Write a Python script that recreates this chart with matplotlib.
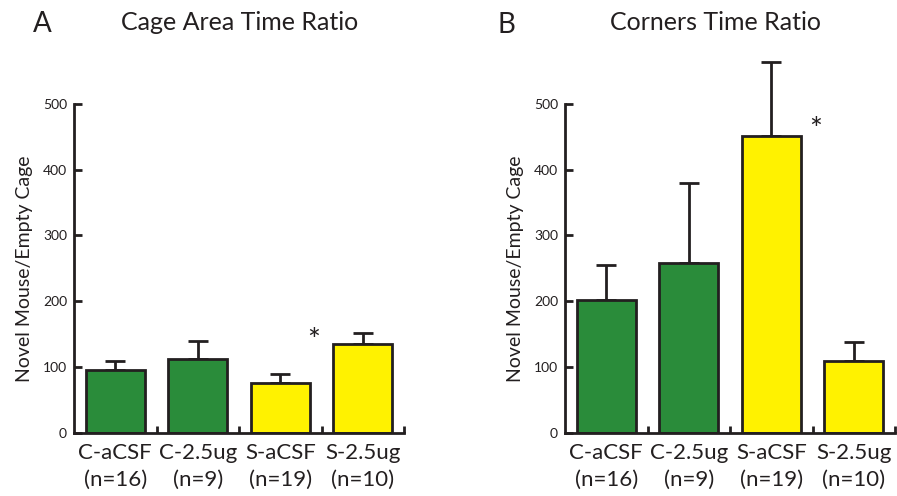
import numpy as np
import matplotlib.pyplot as plt

plt.rcParams['font.family'] = ['Lato', 'DejaVu Sans']

# ---- data ----
groups = ["C-aCSF", "C-2.5ug", "S-aCSF", "S-2.5ug"]
n_labels = ["(n=16)", "(n=9)", "(n=19)", "(n=10)"]
cage_mean = [95, 113, 76, 135]
cage_err = [15, 27, 14, 17]
corner_mean = [202, 258, 451, 109]
corner_err = [53, 121, 112, 29]

green = "#2a8c3a"
yellow = "#fff200"
ink = "#231f20"
bar_colors = [green, green, yellow, yellow]

fig = plt.figure(figsize=(8.97, 4.96), dpi=100)
axA = fig.add_axes([74 / 897, 63 / 496, 330 / 897, 382 / 496])
axB = fig.add_axes([565 / 897, 63 / 496, 330 / 897, 382 / 496])


def draw_panel(ax, means, errs):
    x = np.arange(len(groups))
    ax.bar(x, means, width=0.71, color=bar_colors, edgecolor=ink,
           linewidth=2, zorder=2)
    ax.errorbar(x, means, yerr=[np.zeros(len(errs)), errs], fmt="none",
                ecolor=ink, elinewidth=2, capsize=7, capthick=2, zorder=1)
    ax.set_xlim(-0.5, 3.5)
    ax.set_ylim(0, 580)
    for side in ["top", "right"]:
        ax.spines[side].set_visible(False)
    ax.spines["left"].set_bounds(0, 500)
    ax.spines["left"].set_linewidth(2)
    ax.spines["bottom"].set_linewidth(2)
    ax.spines["left"].set_color(ink)
    ax.spines["bottom"].set_color(ink)
    ax.set_yticks([0, 100, 200, 300, 400, 500])
    ax.tick_params(axis="y", direction="in", length=6, width=2, color=ink,
                   labelsize=10, labelcolor=ink, pad=5)
    ax.set_xticks(x)
    ax.set_xticklabels([g + "\n" + n for g, n in zip(groups, n_labels)],
                       fontsize=16, color=ink, linespacing=1.45)
    ax.tick_params(axis="x", length=0, pad=7)
    ax.set_xticks([0.5, 1.5, 2.5, 3.5], minor=True)
    ax.tick_params(axis="x", which="minor", direction="in", length=5,
                   width=2, color=ink)
    ax.set_ylabel("Novel Mouse/Empty Cage", fontsize=14, color=ink)
    ax.yaxis.set_label_coords(-0.125, 250 / 580)


draw_panel(axA, cage_mean, cage_err)
draw_panel(axB, corner_mean, corner_err)

axA.text(2.41, 140, "*", fontsize=22, ha="center", va="center", color=ink)
axB.text(2.54, 460, "*", fontsize=22, ha="center", va="center", color=ink)

fig.text(42 / 897, 1 - 24 / 496, "A", fontsize=20, ha="center", va="center", color=ink)
fig.text(506 / 897, 1 - 25 / 496, "B", fontsize=20, ha="center", va="center", color=ink)
fig.text(240 / 897, 1 - 23 / 496, "Cage Area Time Ratio", fontsize=18,
         ha="center", va="center", color=ink)
fig.text(716 / 897, 1 - 23 / 496, "Corners Time Ratio", fontsize=18,
         ha="center", va="center", color=ink)

plt.savefig("out.png", dpi=100)
